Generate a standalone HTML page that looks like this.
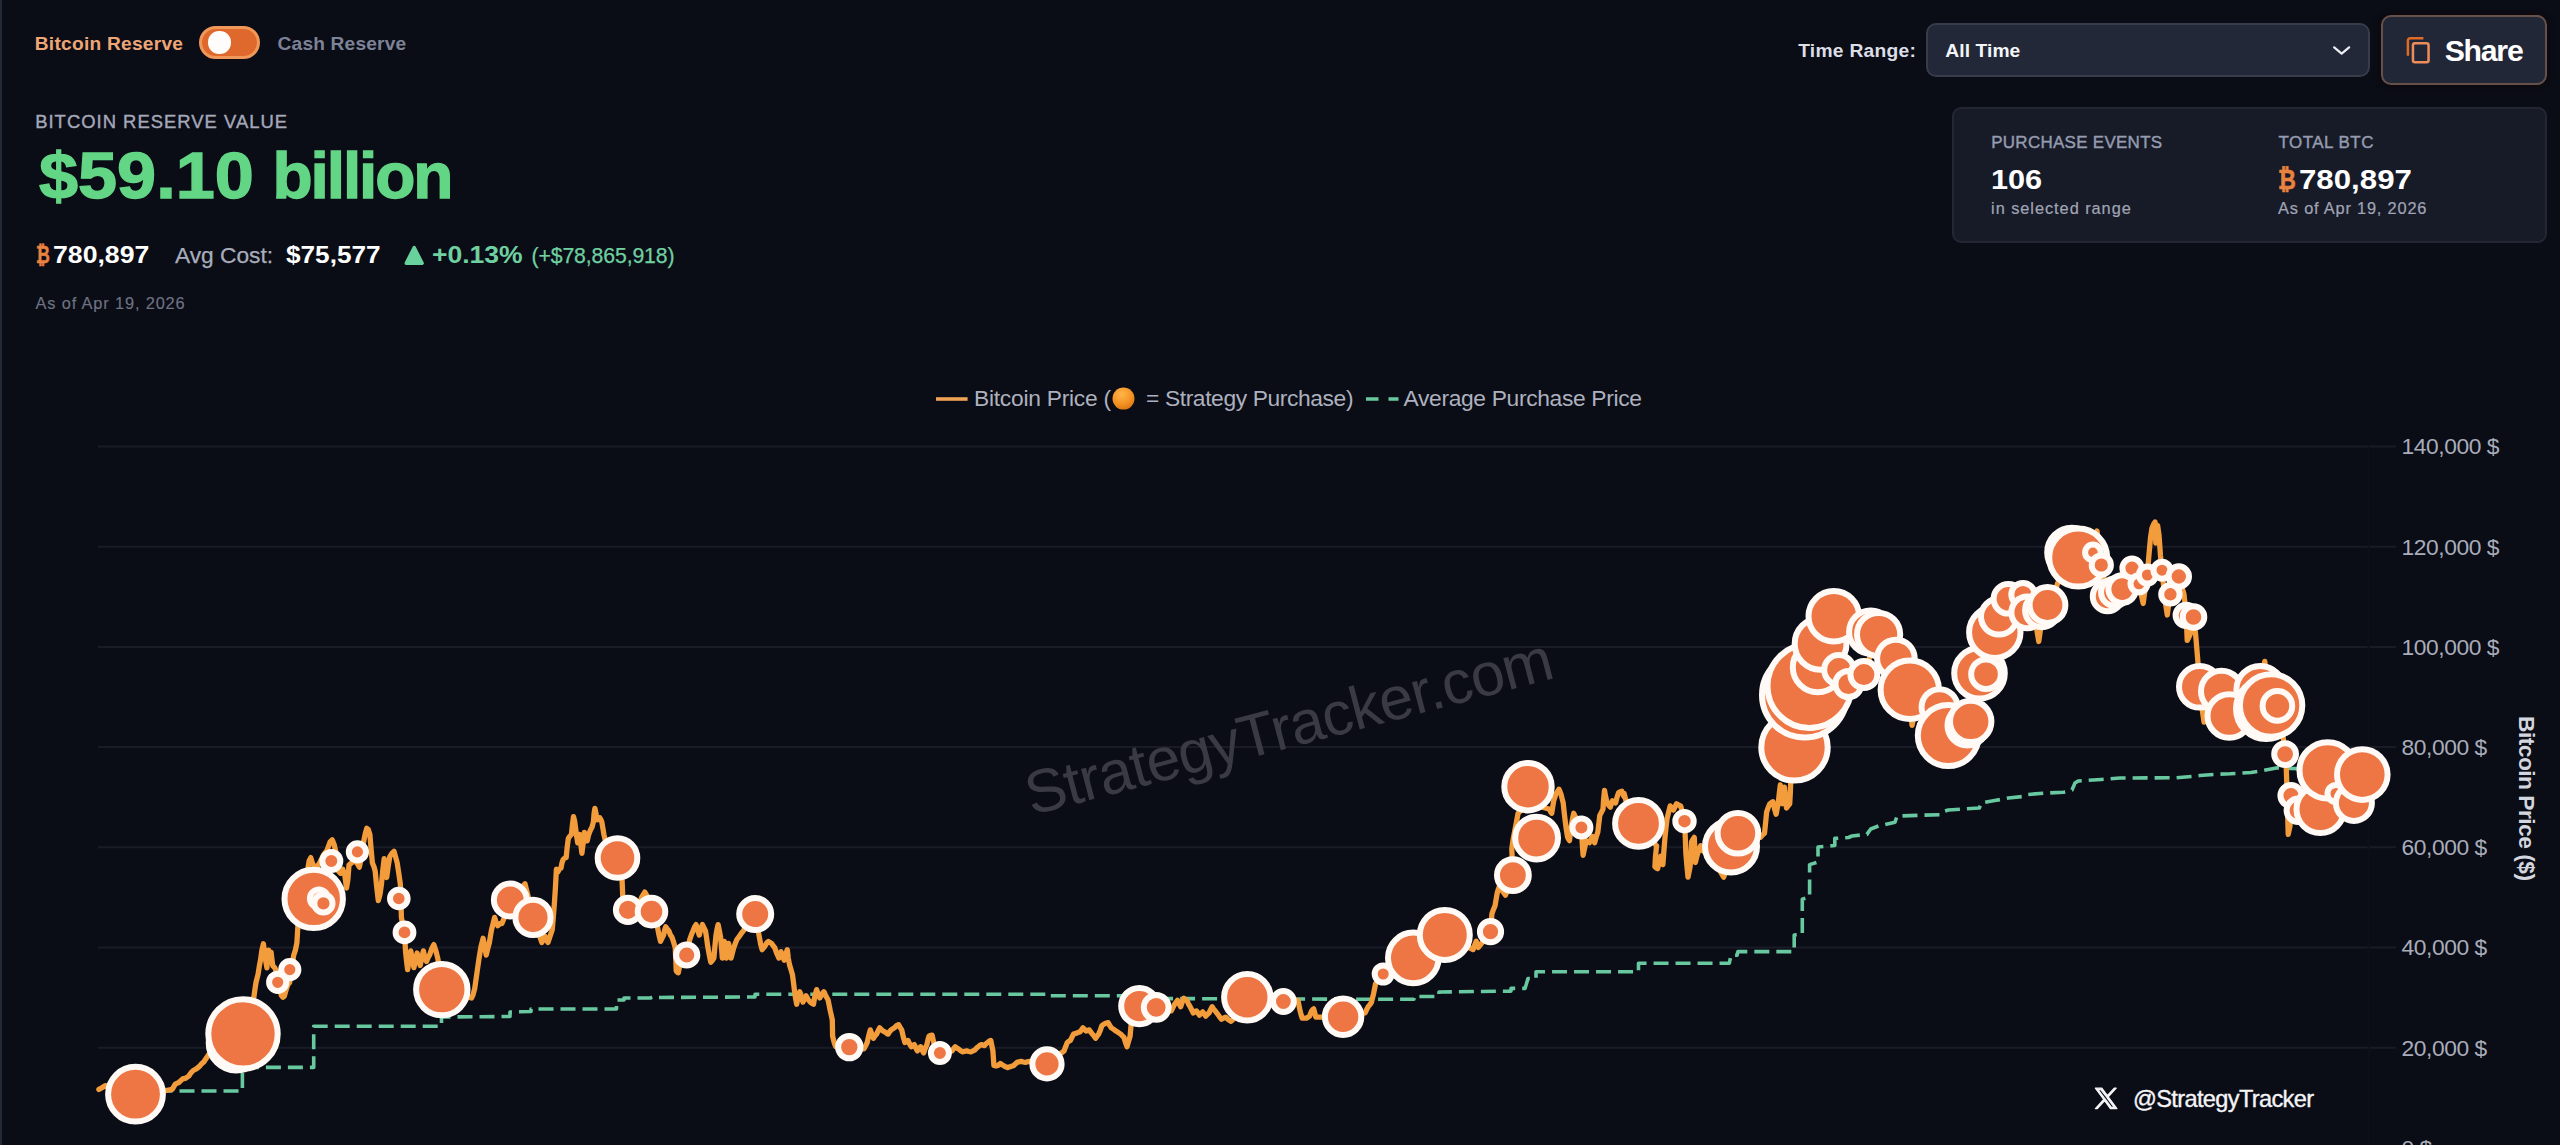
<!DOCTYPE html>
<html lang="en">
<head>
<meta charset="utf-8">
<title>Strategy Tracker - Bitcoin Reserve</title>
<style>
html,body{margin:0;padding:0;background:#0a0c16;}
body{width:2560px;height:1145px;position:relative;overflow:hidden;font-family:"Liberation Sans",sans-serif;color:#fff;}
.edge{position:absolute;left:0;top:0;width:2px;height:1145px;background:#222a38;}
.t{position:absolute;white-space:nowrap;line-height:1;margin:0;}
svg.chart{position:absolute;left:0;top:0;}
svg text{font-family:"Liberation Sans",sans-serif;}
.toggle{position:absolute;left:199.2px;top:25.9px;width:55.1px;height:27.4px;border-radius:18px;background:#df692c;border:3px solid #f0975a;}
.toggle i{position:absolute;left:6.3px;top:2.5px;width:22.4px;height:22.4px;border-radius:50%;background:#fffdfb;}
.select{position:absolute;left:1926.3px;top:23px;width:439.4px;height:49.6px;border-radius:10px;background:#222837;border:2px solid #363c4a;}
.share{position:absolute;left:2380.7px;top:15px;width:162.6px;height:66.2px;border-radius:10px;background:#222737;border:2px solid #66504a;box-shadow:0 0 6px rgba(20,8,4,0.8);}
.card{position:absolute;left:1952px;top:106.7px;width:591.4px;height:132.5px;border-radius:9px;background:#171b27;border:2px solid #232733;}
.tri{position:absolute;left:404.7px;top:246px;width:0;height:0;border-left:9.6px solid transparent;border-right:9.6px solid transparent;border-bottom:18.8px solid #62c893;border-radius:2px;}
</style>
</head>
<body>
<div class="edge"></div>
<svg class="chart" width="2560" height="1145" viewBox="0 0 2560 1145">
<defs><radialGradient id="em" cx="0.42" cy="0.3" r="0.75"><stop offset="0" stop-color="#ffb54a"/><stop offset="0.6" stop-color="#f59324"/><stop offset="1" stop-color="#d8740f"/></radialGradient></defs>
<g stroke="#191c26" stroke-width="2">
<line x1="98" y1="446.6" x2="2396" y2="446.6"/>
<line x1="98" y1="546.8" x2="2396" y2="546.8"/>
<line x1="98" y1="647.0" x2="2396" y2="647.0"/>
<line x1="98" y1="747.1" x2="2396" y2="747.1"/>
<line x1="98" y1="847.3" x2="2396" y2="847.3"/>
<line x1="98" y1="947.5" x2="2396" y2="947.5"/>
<line x1="98" y1="1047.7" x2="2396" y2="1047.7"/>
<line x1="98" y1="1147.9" x2="2396" y2="1147.9"/>
</g>
<line x1="2368.5" y1="446.6" x2="2368.5" y2="1145" stroke="#0d1019" stroke-width="2"/>
<text class="wm" x="0" y="0" transform="translate(1031.5 815.5) rotate(-14.7)" fill="#393a43" font-size="61" textLength="543">StrategyTracker.com</text>
<path d="M135.5 1091.0 L242.4 1091.0 L242.4 1067.4 L313.7 1067.4 L313.7 1026.2 L441.5 1026.2 L441.5 1017.0 L510.0 1016.5 L510.0 1012.0 L531.0 1011.5 L531.0 1009.0 L616.5 1009.0 L616.5 1000.0 L624.0 1000.0 L624.0 998.0 L651.0 998.0 L651.0 997.5 L755.0 997.0 L755.0 994.3 L1046.0 994.3 L1046.0 995.8 L1139.0 995.8 L1139.0 998.5 L1247.0 998.8 L1343.0 999.2 L1413.9 999.2 L1413.9 996.5 L1439.0 996.5 L1439.0 992.0 L1511.0 991.1 L1511.0 988.4 L1525.0 988.4 L1528.0 978.5 L1536.0 978.5 L1536.0 971.7 L1638.5 971.7 L1638.5 963.2 L1729.3 963.2 L1731.0 955.2 L1737.0 955.2 L1738.0 951.6 L1794.2 951.6 L1794.2 935.0 L1802.3 934.4 L1802.3 899.2 L1809.6 897.0 L1809.6 864.6 L1818.0 862.0 L1818.0 847.0 L1828.5 846.0 L1834.8 845.5 L1834.8 838.4 L1848.5 837.5 L1852.0 836.0 L1866.9 834.4 L1870.7 829.0 L1878.6 826.0 L1895.0 822.2 L1897.0 816.0 L1910.0 815.6 L1939.5 814.7 L1941.9 812.0 L1948.3 810.0 L1970.7 808.5 L1979.4 808.0 L1981.0 803.0 L1994.8 800.6 L2008.4 798.0 L2023.0 796.5 L2027.3 794.5 L2047.2 793.0 L2063.8 792.2 L2072.0 790.0 L2075.0 783.0 L2078.2 781.0 L2101.3 779.5 L2120.0 778.0 L2176.0 777.8 L2195.0 776.2 L2199.8 775.5 L2213.8 774.4 L2230.2 773.8 L2251.0 772.5 L2260.6 771.0 L2271.1 769.0 L2277.5 767.8 L2290.0 768.5 L2320.0 768.8 L2368.0 769.3" fill="none" stroke="#68c9a0" stroke-width="3.6" stroke-dasharray="15 7" stroke-linejoin="round"/>
<path d="M98.9 1089.4 L102.0 1087.7 L105.1 1085.6 L135.5 1093.6 L165.9 1090.5 L172.2 1089.4 L175.3 1084.2 L178.5 1082.7 L182.7 1078.9 L185.8 1078.1 L189.0 1075.8 L191.1 1072.6 L193.2 1070.5 L196.3 1068.9 L199.4 1066.4 L201.5 1063.8 L203.6 1062.2 L205.7 1059.0 L207.8 1055.9 L226.7 1030.7 L243.5 1009.8 L253.9 997.2 L255.0 988.8 L256.0 982.5 L258.1 974.2 L259.4 965.8 L260.6 959.5 L261.9 950.1 L263.4 943.8 L264.4 951.1 L265.5 959.5 L266.9 967.9 L267.8 957.4 L268.6 950.1 L269.9 953.6 L271.1 952.2 L272.0 959.9 L272.8 965.8 L274.9 967.9 L276.6 972.1 L278.0 974.2 L279.5 984.6 L281.2 995.1 L282.8 997.2 L284.3 996.2 L286.4 988.8 L287.9 984.6 L289.6 982.5 L291.7 967.9 L293.7 955.3 L295.4 950.1 L296.9 942.7 L297.9 926.0 L299.7 917.4 L302.9 900.6 L306.0 879.6 L309.2 860.8 L310.8 857.6 L312.3 862.9 L315.4 869.2 L319.6 862.9 L323.8 854.5 L327.0 850.3 L330.1 841.9 L332.2 839.8 L334.3 845.1 L336.4 854.5 L338.5 871.2 L340.6 873.3 L342.7 869.2 L344.8 875.4 L346.5 888.0 L347.9 879.6 L349.0 865.0 L351.5 862.9 L354.2 860.8 L356.9 862.9 L359.4 867.1 L361.5 856.6 L363.6 841.9 L365.3 833.5 L366.8 828.3 L368.2 829.3 L369.9 834.6 L371.2 850.3 L372.4 862.9 L374.1 867.1 L375.2 871.2 L376.6 885.9 L378.3 900.6 L380.0 894.3 L381.5 883.8 L382.9 869.2 L384.2 858.7 L385.4 869.2 L386.7 877.5 L388.4 865.0 L389.8 856.6 L391.9 853.4 L394.0 851.3 L395.5 856.6 L397.2 862.9 L398.8 873.3 L400.3 883.8 L400.9 898.5 L401.4 917.4 L403.0 925.7 L404.5 932.4 L405.5 950.9 L406.6 961.4 L407.6 969.7 L409.3 959.3 L410.8 950.9 L412.3 959.3 L413.9 967.6 L415.6 959.3 L417.1 953.0 L418.5 959.3 L420.2 965.5 L421.9 957.2 L423.4 950.9 L424.8 957.2 L426.5 961.4 L428.2 957.2 L429.6 955.1 L431.7 948.8 L433.8 944.6 L435.9 950.9 L438.0 959.3 L441.8 989.6 L471.6 998.0 L473.0 994.9 L474.7 988.6 L476.8 973.9 L478.9 959.3 L481.0 946.7 L483.1 938.3 L484.8 946.7 L486.2 955.1 L487.7 948.8 L489.4 942.5 L490.4 936.2 L491.5 929.9 L493.1 923.6 L494.6 917.4 L496.1 922.6 L497.8 925.7 L499.8 923.6 L501.9 923.6 L506.1 913.2 L510.3 904.8 L517.7 892.2 L525.0 883.8 L529.2 900.6 L533.4 917.4 L537.6 929.9 L541.8 942.5 L543.4 938.3 L544.9 936.2 L546.4 940.4 L548.0 942.5 L550.1 936.2 L552.2 929.9 L553.3 917.4 L554.3 904.8 L555.4 888.0 L556.4 869.2 L557.8 872.2 L559.3 869.1 L561.0 868.0 L562.0 862.8 L563.1 859.6 L564.7 858.0 L566.2 857.5 L567.2 847.1 L568.3 838.7 L569.8 836.2 L571.4 834.5 L572.5 824.0 L573.5 816.7 L574.6 820.9 L575.6 828.2 L576.7 836.6 L577.7 842.9 L578.8 837.6 L579.8 834.5 L580.9 845.0 L581.9 853.3 L583.2 842.9 L584.4 832.4 L585.7 837.6 L587.2 840.8 L588.6 834.9 L590.3 830.3 L592.0 827.2 L593.4 821.9 L594.1 813.5 L594.9 808.3 L596.2 814.6 L597.6 819.8 L598.7 818.1 L599.7 817.7 L600.8 819.4 L601.8 821.9 L602.9 828.2 L603.9 834.5 L605.4 840.8 L617.5 858.0 L622.1 880.6 L622.8 897.4 L628.0 909.9 L638.5 905.7 L641.6 897.4 L644.8 892.1 L647.9 897.4 L651.5 911.6 L657.4 926.7 L659.0 935.1 L660.5 941.4 L662.0 938.2 L663.6 935.1 L664.7 929.8 L665.7 926.7 L667.4 929.2 L668.9 930.9 L670.3 934.7 L672.0 937.2 L673.7 942.4 L675.2 947.6 L675.8 960.2 L676.2 970.7 L677.3 972.4 L678.3 972.8 L680.0 964.4 L686.7 955.0 L689.8 939.3 L691.3 935.1 L693.0 930.9 L694.7 926.7 L696.1 924.6 L697.6 929.8 L699.3 935.1 L700.9 928.8 L702.4 924.6 L703.9 927.7 L705.5 930.9 L706.6 938.2 L707.6 945.5 L709.3 955.0 L710.8 962.3 L712.3 960.6 L713.9 958.1 L715.0 945.5 L716.0 935.1 L717.1 928.8 L718.1 924.6 L719.4 930.9 L720.6 937.2 L721.5 947.6 L722.3 958.1 L723.4 949.7 L724.4 941.4 L725.5 949.7 L726.5 958.1 L727.6 950.8 L728.6 943.5 L729.9 950.8 L731.1 958.1 L732.4 952.9 L733.8 947.6 L735.3 943.5 L737.0 939.3 L738.7 937.2 L740.1 935.1 L741.6 933.0 L743.3 930.9 L755.2 914.1 L759.0 935.1 L760.5 943.5 L762.1 949.7 L763.8 947.6 L765.3 945.5 L766.7 943.0 L768.4 941.4 L770.1 942.6 L771.6 943.5 L773.0 945.5 L774.7 947.6 L776.8 953.5 L778.9 958.1 L779.9 954.4 L781.0 951.8 L782.7 956.4 L784.1 960.2 L785.6 954.4 L787.3 949.7 L788.3 958.1 L789.4 964.4 L791.0 969.6 L792.5 974.9 L793.6 983.3 L794.6 991.7 L795.7 999.0 L796.7 1004.2 L798.2 996.9 L799.8 991.7 L801.5 997.9 L803.0 1002.1 L804.5 998.4 L806.1 995.8 L808.2 999.6 L810.3 1002.1 L812.0 1003.4 L813.5 1004.2 L814.9 995.8 L816.6 989.6 L818.3 994.2 L819.8 997.9 L821.9 994.2 L823.9 991.7 L826.0 996.3 L828.1 1000.0 L830.2 1010.5 L832.3 1019.9 L832.6 1036.2 L834.2 1042.5 L835.7 1046.7 L849.3 1047.1 L864.0 1048.8 L865.7 1045.6 L867.2 1042.5 L868.6 1036.2 L870.3 1029.9 L872.0 1034.5 L873.4 1038.3 L874.9 1035.8 L876.6 1034.1 L878.3 1030.3 L879.7 1027.8 L880.8 1029.1 L881.8 1029.9 L883.3 1031.2 L885.0 1032.0 L886.6 1033.3 L888.1 1034.1 L889.6 1031.6 L891.2 1029.9 L892.9 1028.7 L894.4 1027.8 L896.5 1025.7 L898.6 1024.7 L900.1 1027.4 L901.7 1029.9 L903.4 1037.3 L904.9 1042.5 L906.3 1041.2 L908.0 1040.4 L909.7 1044.2 L911.2 1046.7 L912.6 1045.4 L914.3 1044.6 L916.0 1048.4 L917.4 1050.9 L918.9 1048.4 L920.6 1046.7 L922.3 1050.5 L923.7 1053.0 L925.2 1048.4 L926.9 1044.6 L927.9 1040.0 L929.0 1036.2 L930.6 1035.4 L932.1 1035.2 L933.2 1040.0 L934.2 1044.6 L939.9 1053.0 L952.0 1050.9 L953.7 1048.4 L955.2 1046.7 L956.6 1047.9 L958.3 1048.8 L960.4 1050.5 L962.5 1051.9 L964.6 1051.3 L966.7 1050.9 L968.8 1051.5 L970.9 1051.9 L973.0 1050.9 L975.1 1049.8 L976.7 1047.9 L978.2 1046.7 L979.7 1045.4 L981.4 1044.6 L983.0 1045.2 L984.5 1045.6 L986.0 1043.8 L987.6 1042.5 L989.3 1041.2 L990.8 1040.4 L991.8 1045.6 L992.9 1050.9 L993.5 1059.3 L993.9 1065.5 L996.0 1066.0 L998.1 1065.5 L999.2 1064.3 L1000.2 1063.5 L1001.9 1064.7 L1003.4 1065.5 L1005.5 1066.8 L1007.6 1067.6 L1009.0 1067.0 L1010.7 1066.6 L1012.4 1066.0 L1013.8 1065.5 L1015.3 1063.9 L1017.0 1062.4 L1019.1 1061.8 L1021.2 1061.4 L1023.3 1062.0 L1025.4 1062.4 L1027.5 1061.8 L1029.6 1061.4 L1046.9 1063.9 L1064.1 1050.9 L1065.6 1046.7 L1067.3 1042.5 L1069.0 1041.2 L1070.4 1040.4 L1071.9 1037.3 L1073.6 1034.1 L1075.2 1033.5 L1076.7 1033.1 L1078.2 1032.4 L1079.8 1032.0 L1081.5 1029.9 L1083.0 1027.8 L1084.5 1029.5 L1086.1 1031.0 L1087.8 1030.3 L1089.3 1029.9 L1090.7 1032.0 L1092.4 1034.1 L1094.1 1036.2 L1095.6 1038.3 L1097.0 1036.2 L1098.7 1034.1 L1100.4 1029.9 L1101.9 1025.7 L1103.3 1024.5 L1105.0 1023.6 L1106.7 1023.0 L1108.1 1022.6 L1109.6 1025.3 L1111.3 1027.8 L1113.0 1028.9 L1114.4 1029.9 L1115.9 1031.0 L1117.6 1032.0 L1119.2 1033.1 L1120.7 1034.1 L1122.2 1035.8 L1123.9 1037.3 L1125.5 1042.5 L1127.0 1046.7 L1128.5 1041.5 L1130.1 1036.2 L1131.2 1023.6 L1133.5 1019.3 L1139.4 1006.1 L1156.2 1007.3 L1171.2 1010.9 L1172.9 1007.7 L1174.4 1004.6 L1175.9 1002.5 L1177.5 1000.4 L1179.2 1003.8 L1180.7 1006.7 L1182.1 1002.5 L1183.8 998.3 L1185.5 999.4 L1187.0 1000.4 L1188.4 1003.8 L1190.1 1006.7 L1191.8 1010.0 L1193.3 1013.0 L1194.7 1011.7 L1196.4 1010.9 L1198.1 1013.2 L1199.5 1015.1 L1201.0 1013.4 L1202.7 1011.9 L1204.4 1014.2 L1205.8 1016.1 L1207.3 1014.4 L1209.0 1013.0 L1210.6 1009.6 L1212.1 1006.7 L1213.6 1009.0 L1215.3 1010.9 L1216.9 1013.2 L1218.4 1015.1 L1219.9 1017.4 L1221.5 1019.3 L1223.6 1018.0 L1225.7 1017.2 L1228.2 1019.5 L1231.0 1021.4 L1247.3 1006.7 L1283.4 1001.5 L1298.0 1000.4 L1299.1 1005.9 L1300.1 1010.9 L1301.2 1015.1 L1302.2 1018.2 L1304.3 1018.2 L1306.4 1018.2 L1307.9 1017.2 L1309.6 1016.1 L1310.6 1013.4 L1311.7 1010.9 L1312.7 1009.6 L1313.7 1008.8 L1314.8 1013.2 L1315.8 1017.2 L1319.0 1017.2 L1322.1 1017.2 L1343.1 1016.7 L1365.1 1013.0 L1366.6 1009.6 L1368.2 1006.7 L1369.9 1004.6 L1371.4 1002.5 L1372.4 998.3 L1373.5 994.1 L1374.5 988.9 L1375.6 983.6 L1383.3 974.2 L1413.3 957.9 L1444.8 934.9 L1473.1 949.6 L1474.5 945.4 L1476.2 941.2 L1477.3 944.3 L1478.3 947.5 L1481.5 943.3 L1484.6 939.1 L1490.5 931.7 L1491.9 913.9 L1493.4 909.7 L1495.1 905.5 L1496.1 899.3 L1497.2 893.0 L1498.2 889.6 L1499.3 886.7 L1502.4 890.9 L1505.5 895.1 L1512.9 875.2 L1511.8 849.0 L1512.9 840.6 L1518.1 813.3 L1528.0 802.9 L1549.6 809.2 L1550.6 811.7 L1551.7 813.3 L1552.7 807.1 L1553.7 800.8 L1554.8 797.4 L1555.8 794.5 L1557.5 791.6 L1559.0 789.2 L1560.0 791.6 L1561.1 794.5 L1562.1 798.7 L1563.2 802.9 L1564.2 812.5 L1565.3 821.7 L1566.3 829.3 L1567.4 836.4 L1568.4 838.9 L1569.5 840.6 L1570.5 832.2 L1571.6 823.8 L1572.6 818.4 L1573.7 813.3 L1574.7 815.4 L1575.8 817.5 L1581.4 827.6 L1582.2 842.7 L1583.1 855.3 L1584.8 847.3 L1586.2 840.6 L1587.7 841.8 L1589.4 842.7 L1591.0 839.3 L1592.5 836.4 L1593.6 839.7 L1594.6 842.7 L1596.1 837.2 L1597.8 832.2 L1598.8 823.8 L1599.8 815.4 L1601.5 812.1 L1603.0 809.2 L1603.6 799.5 L1604.5 790.3 L1605.7 797.0 L1607.2 802.9 L1608.7 805.2 L1610.3 807.1 L1611.4 803.7 L1612.4 800.8 L1614.1 802.0 L1615.6 802.9 L1617.0 797.4 L1618.7 792.4 L1620.4 791.8 L1621.9 791.3 L1622.9 794.1 L1623.9 796.6 L1624.1 793.4 L1626.2 801.7 L1638.4 823.3 L1656.6 845.8 L1655.5 856.2 L1654.9 866.7 L1656.2 868.0 L1657.6 868.8 L1659.1 862.5 L1660.8 856.2 L1661.8 860.9 L1662.9 864.6 L1663.9 851.0 L1665.0 837.4 L1666.0 827.7 L1667.1 818.5 L1668.7 811.8 L1670.2 805.9 L1671.7 808.2 L1673.4 810.1 L1675.0 806.8 L1676.5 803.8 L1678.6 805.1 L1680.7 805.9 L1684.5 821.2 L1685.1 833.2 L1685.9 854.1 L1687.0 866.7 L1688.0 877.2 L1689.1 871.8 L1690.1 866.7 L1691.0 854.1 L1691.6 841.6 L1693.1 839.3 L1694.3 837.4 L1694.9 850.4 L1695.4 862.5 L1696.4 858.1 L1697.5 854.1 L1698.9 849.7 L1700.6 845.8 L1701.7 848.1 L1702.7 850.0 L1717.4 866.7 L1723.7 877.2 L1727.9 864.6 L1731.0 856.2 L1737.9 833.2 L1760.3 837.4 L1762.4 835.1 L1764.5 833.2 L1765.6 822.7 L1766.6 812.2 L1768.1 807.8 L1769.8 803.8 L1771.5 802.6 L1772.9 801.7 L1774.4 808.2 L1776.1 814.3 L1777.1 808.9 L1778.2 803.8 L1779.2 794.4 L1780.3 785.0 L1781.3 794.6 L1782.4 803.8 L1783.4 795.2 L1784.4 787.1 L1785.5 797.8 L1786.5 808.0 L1788.2 805.7 L1789.7 803.8 L1790.3 793.4 L1790.7 782.9 L1794.9 745.2 L1794.5 747.3 L1803.9 694.8 L1808.3 685.4 L1817.7 667.3 L1820.6 643.8 L1833.8 616.3 L1838.9 669.7 L1848.5 684.0 L1863.9 674.6 L1869.8 657.0 L1870.7 632.0 L1878.6 634.5 L1895.9 658.5 L1909.6 689.9 L1912.0 725.3 L1915.0 712.0 L1939.5 706.6 L1948.3 735.6 L1970.7 721.4 L1979.5 673.2 L1986.0 674.2 L1994.8 632.3 L1999.0 616.6 L2008.4 598.8 L2023.0 594.6 L2027.3 612.4 L2036.0 625.0 L2038.8 641.5 L2041.5 622.0 L2047.2 605.1 L2055.0 592.0 L2057.5 583.5 L2062.0 575.0 L2075.5 562.0 L2078.2 557.6 L2092.9 552.4 L2095.0 540.0 L2097.0 531.0 L2099.0 546.0 L2101.3 565.0 L2107.6 596.4 L2114.9 592.2 L2122.2 589.1 L2132.0 568.1 L2139.0 583.8 L2141.5 596.0 L2143.2 603.5 L2145.0 590.0 L2147.4 575.0 L2148.5 560.0 L2150.5 537.7 L2152.0 528.0 L2153.7 524.0 L2155.1 522.0 L2155.8 543.0 L2156.6 529.0 L2157.6 525.5 L2159.0 535.0 L2160.5 556.0 L2162.0 570.2 L2165.0 600.0 L2167.3 615.0 L2169.0 602.0 L2170.4 594.3 L2178.8 576.5 L2184.0 594.3 L2186.2 615.3 L2187.2 640.4 L2189.0 637.0 L2190.3 634.0 L2193.5 617.0 L2195.6 634.0 L2197.7 659.3 L2199.8 687.0 L2202.0 708.0 L2204.0 722.2 L2207.0 704.0 L2221.8 690.8 L2230.2 715.9 L2260.6 688.7 L2263.0 670.0 L2264.8 661.4 L2267.0 680.0 L2271.1 705.5 L2277.4 705.9 L2283.7 741.0 L2285.1 754.1 L2286.2 766.0 L2287.0 790.0 L2288.2 834.4 L2290.0 826.0 L2291.0 795.6 L2298.0 810.0 L2320.3 809.2 L2327.7 770.4 L2336.0 793.5 L2353.9 802.9 L2362.3 774.6 L2368.0 770.0" fill="none" stroke="#f29c3c" stroke-width="5.3" stroke-linejoin="round" stroke-linecap="round"/>
<g fill="#ee7644" stroke="#fffaf5" stroke-width="6">
<circle cx="135.5" cy="1094.2" r="27.4"/>
<circle cx="236.2" cy="1043.0" r="27.5"/>
<circle cx="243.0" cy="1033.9" r="34.7"/>
<circle cx="277.7" cy="982.3" r="8.6"/>
<circle cx="289.8" cy="969.6" r="8.6"/>
<circle cx="313.7" cy="898.9" r="29.2"/>
<circle cx="318.9" cy="898.5" r="9.0"/>
<circle cx="323.4" cy="903.4" r="9.1"/>
<circle cx="331.3" cy="860.9" r="9.0"/>
<circle cx="357.4" cy="851.9" r="8.6"/>
<circle cx="398.8" cy="898.5" r="8.8"/>
<circle cx="404.5" cy="932.4" r="8.9"/>
<circle cx="441.8" cy="989.6" r="25.7"/>
<circle cx="510.3" cy="900.0" r="16.4"/>
<circle cx="533.0" cy="917.4" r="17.6"/>
<circle cx="617.5" cy="858.0" r="19.8"/>
<circle cx="628.0" cy="909.9" r="12.1"/>
<circle cx="651.5" cy="911.6" r="13.8"/>
<circle cx="686.7" cy="955.0" r="10.6"/>
<circle cx="755.2" cy="914.1" r="16.0"/>
<circle cx="849.3" cy="1047.1" r="11.2"/>
<circle cx="939.9" cy="1053.0" r="9.0"/>
<circle cx="1047.0" cy="1063.9" r="14.6"/>
<circle cx="1139.4" cy="1006.1" r="18.2"/>
<circle cx="1156.2" cy="1007.3" r="12.4"/>
<circle cx="1247.3" cy="997.3" r="23.2"/>
<circle cx="1283.4" cy="1001.5" r="10.4"/>
<circle cx="1343.1" cy="1016.7" r="18.2"/>
<circle cx="1383.2" cy="974.0" r="8.5"/>
<circle cx="1413.3" cy="957.9" r="25.3"/>
<circle cx="1444.8" cy="934.9" r="25.0"/>
<circle cx="1490.5" cy="931.7" r="10.6"/>
<circle cx="1512.9" cy="875.2" r="15.9"/>
<circle cx="1528.0" cy="786.7" r="23.7"/>
<circle cx="1536.6" cy="838.1" r="21.4"/>
<circle cx="1581.4" cy="827.6" r="9.0"/>
<circle cx="1638.5" cy="823.4" r="23.4"/>
<circle cx="1684.5" cy="821.2" r="9.2"/>
<circle cx="1731.0" cy="846.5" r="26.0"/>
<circle cx="1737.9" cy="833.2" r="20.3"/>
<circle cx="1794.5" cy="747.3" r="33.2"/>
<circle cx="1804.5" cy="695.0" r="42.5"/>
<circle cx="1809.5" cy="686.0" r="42.0"/>
<circle cx="1817.7" cy="667.3" r="24.9"/>
<circle cx="1820.6" cy="643.8" r="25.9"/>
<circle cx="1833.8" cy="616.3" r="25.3"/>
<circle cx="1838.9" cy="669.7" r="14.7"/>
<circle cx="1848.5" cy="684.0" r="13.1"/>
<circle cx="1863.9" cy="674.6" r="13.5"/>
<circle cx="1870.7" cy="632.0" r="21.6"/>
<circle cx="1878.6" cy="634.5" r="21.6"/>
<circle cx="1895.9" cy="658.5" r="18.8"/>
<circle cx="1909.8" cy="689.7" r="29.2"/>
<circle cx="1939.6" cy="707.2" r="18.0"/>
<circle cx="1948.3" cy="735.6" r="30.5"/>
<circle cx="1967.5" cy="725.5" r="20.0"/>
<circle cx="1970.7" cy="721.4" r="20.7"/>
<circle cx="1979.5" cy="673.2" r="25.3"/>
<circle cx="1986.0" cy="674.2" r="14.8"/>
<circle cx="1994.8" cy="632.3" r="25.7"/>
<circle cx="1999.0" cy="616.6" r="18.0"/>
<circle cx="2008.4" cy="598.8" r="14.8"/>
<circle cx="2023.0" cy="594.6" r="11.7"/>
<circle cx="2027.3" cy="612.4" r="15.9"/>
<circle cx="2042.0" cy="610.3" r="16.9"/>
<circle cx="2047.5" cy="605.0" r="17.9"/>
<circle cx="2071.9" cy="552.4" r="24.7"/>
<circle cx="2078.2" cy="557.6" r="29.0"/>
<circle cx="2092.9" cy="552.4" r="7.8"/>
<circle cx="2101.3" cy="565.0" r="9.6"/>
<circle cx="2107.6" cy="596.4" r="14.8"/>
<circle cx="2114.9" cy="592.2" r="13.8"/>
<circle cx="2122.2" cy="589.1" r="13.8"/>
<circle cx="2132.0" cy="568.1" r="9.6"/>
<circle cx="2139.0" cy="583.8" r="8.5"/>
<circle cx="2147.4" cy="575.0" r="8.5"/>
<circle cx="2162.0" cy="570.2" r="8.5"/>
<circle cx="2170.4" cy="594.3" r="9.2"/>
<circle cx="2178.8" cy="576.5" r="10.2"/>
<circle cx="2186.2" cy="615.3" r="10.6"/>
<circle cx="2193.5" cy="617.0" r="10.8"/>
<circle cx="2199.8" cy="686.8" r="20.8"/>
<circle cx="2221.5" cy="691.2" r="20.5"/>
<circle cx="2229.3" cy="716.0" r="21.8"/>
<circle cx="2260.2" cy="689.7" r="23.8"/>
<circle cx="2266.3" cy="708.8" r="30.3"/>
<circle cx="2271.1" cy="705.5" r="31.2"/>
<circle cx="2277.4" cy="705.9" r="14.8"/>
<circle cx="2285.1" cy="754.1" r="10.9"/>
<circle cx="2291.0" cy="795.6" r="10.6"/>
<circle cx="2298.3" cy="810.3" r="11.7"/>
<circle cx="2320.3" cy="809.2" r="23.8"/>
<circle cx="2327.7" cy="770.4" r="28.2"/>
<circle cx="2336.0" cy="793.5" r="8.5"/>
<circle cx="2353.9" cy="802.9" r="18.0"/>
<circle cx="2362.3" cy="774.6" r="25.3"/>
</g>
<g class="tick" fill="#a9adbb" font-size="22.8">
<text x="2401.6" y="454.4" textLength="97.9">140,000 $</text>
<text x="2401.6" y="554.6" textLength="97.9">120,000 $</text>
<text x="2401.6" y="654.8" textLength="97.9">100,000 $</text>
<text x="2401.6" y="754.9" textLength="85.6">80,000 $</text>
<text x="2401.6" y="855.1" textLength="85.6">60,000 $</text>
<text x="2401.6" y="955.3" textLength="85.6">40,000 $</text>
<text x="2401.6" y="1055.5" textLength="85.6">20,000 $</text>
<text x="2401.6" y="1155.7" textLength="30.6">0 $</text>
</g>
<text class="ytitle" transform="translate(2519 716) rotate(90)" fill="#d3d6de" font-size="22.8" font-weight="700" textLength="165">Bitcoin Price ($)</text>
<line x1="936" y1="399" x2="967.6" y2="399" stroke="#f0a356" stroke-width="3.6"/>
<g class="leg" fill="#adb1be" font-size="22.8">
<text x="974" y="406.4" textLength="137">Bitcoin Price (</text>
<circle cx="1123.5" cy="398.6" r="11" fill="url(#em)"/>
<text x="1146" y="406.4" textLength="207.5">= Strategy Purchase)</text>
<path d="M1366 399 H1378.5 M1388.5 399 H1398.5" stroke="#68c9a0" stroke-width="3.6" fill="none"/>
<text x="1403.5" y="406.4" textLength="238.5">Average Purchase Price</text>
</g>
<g fill="#f4f4f6"><path transform="translate(2095.4 1088.2) scale(0.0179 0.0166)" stroke="#f4f4f6" stroke-width="75" stroke-linejoin="round" d="M714.163 519.284L1160.89 0H1055.03L667.137 450.887L357.328 0H0L468.492 681.821L0 1226.37H105.866L515.491 750.218L842.672 1226.37H1200L714.137 519.284H714.163ZM569.165 687.828L521.697 619.934L144.011 79.6944H306.615L611.412 515.685L658.88 583.579L1055.08 1150.3H892.476L569.165 687.854V687.828Z"/>
<text class="hand" stroke="#f4f4f6" stroke-width="0.35" x="2133" y="1106.8" font-size="23.6" textLength="181">@StrategyTracker</text></g>
</svg>
<div class="toggle"><i></i></div>
<div class="select"></div>
<div class="share"></div>
<div class="card"></div>
<svg style="position:absolute;left:403px;top:244px" width="23" height="23" viewBox="0 0 23 23"><path d="M11.2 3.6 L19.2 19.2 H3.2 Z" fill="#69d29c" stroke="#69d29c" stroke-width="3.4" stroke-linejoin="round"/></svg>
<svg style="position:absolute;left:2333px;top:46px" width="18" height="10" viewBox="0 0 18 10"><path d="M1.2 1.3 L8.65 7.6 L16.1 1.3" fill="none" stroke="#eceef3" stroke-width="2.2" stroke-linecap="round" stroke-linejoin="round"/></svg>
<svg style="position:absolute;left:2405px;top:35px" width="27" height="31" viewBox="0 0 27 31"><path d="M18.4 3.25 H5.2 a2.3 2.3 0 0 0 -2.3 2.3 V20.8" fill="none" stroke="#de6c24" stroke-width="2.5"/><rect x="7.95" y="8.35" width="15.6" height="18.8" rx="2" fill="none" stroke="#ee8d5a" stroke-width="2.5"/></svg>
<div class="t" id="t1" style="left:34.80px;top:33.52px;font-size:19.15px;font-weight:700;color:#efa676;letter-spacing:0.248px;">Bitcoin Reserve</div>
<div class="t" id="t2" style="left:277.60px;top:33.52px;font-size:19.15px;font-weight:700;color:#7d8396;letter-spacing:0.175px;">Cash Reserve</div>
<div class="t" id="t3" style="left:35.20px;top:113.31px;font-size:18.42px;font-weight:400;color:#a5a8b9;letter-spacing:1.019px;-webkit-text-stroke:0.4px #a5a8b9;">BITCOIN RESERVE VALUE</div>
<div class="t" id="t4" style="left:39.00px;top:143.01px;font-size:65.72px;font-weight:700;color:#63d686;letter-spacing:-0.000px;-webkit-text-stroke:1.4px #63d686;transform:scaleX(1.0682);transform-origin:0 0;">$59.10</div>
<div class="t" id="t4b" style="left:272.50px;top:143.01px;font-size:65.72px;font-weight:700;color:#63d686;letter-spacing:-2.087px;-webkit-text-stroke:1.4px #63d686;">billion</div>
<div class="t" id="t5" style="left:35.89px;top:243.20px;font-size:23.8px;font-weight:700;color:#ea8240;letter-spacing:0.000px;-webkit-text-stroke:0.6px #ea8240;transform:scaleX(0.7111);transform-origin:0 0;">₿</div>
<div class="t" id="t6" style="left:53.48px;top:243.20px;font-size:23.8px;font-weight:700;color:#ffffff;letter-spacing:0.000px;transform:scaleX(1.1193);transform-origin:0 0;">780,897</div>
<div class="t" id="t7" style="left:174.93px;top:244.22px;font-size:22.77px;font-weight:400;color:#a9adbb;letter-spacing:-0.013px;-webkit-text-stroke:0.25px #a9adbb;">Avg Cost:</div>
<div class="t" id="t8" style="left:285.90px;top:243.20px;font-size:23.8px;font-weight:700;color:#ffffff;letter-spacing:0.000px;transform:scaleX(1.0993);transform-origin:0 0;">$75,577</div>
<div class="t" id="t9" style="left:432.49px;top:243.31px;font-size:23.8px;font-weight:700;color:#6fd0a0;letter-spacing:0.000px;transform:scaleX(1.1145);transform-origin:0 0;">+0.13%</div>
<div class="t" id="t10" style="left:531.52px;top:245.21px;font-size:21.22px;font-weight:400;color:#6fd0a0;letter-spacing:-0.116px;-webkit-text-stroke:0.25px #6fd0a0;">(+$78,865,918)</div>
<div class="t" id="t11" style="left:35.58px;top:294.51px;font-size:16.35px;font-weight:400;color:#6e7383;letter-spacing:0.857px;-webkit-text-stroke:0.15px #6e7383;">As of Apr 19, 2026</div>
<div class="t" id="t12" style="left:1798.20px;top:41.20px;font-size:19.25px;font-weight:700;color:#dcdee6;letter-spacing:0.254px;">Time Range:</div>
<div class="t" id="t13" style="left:1945.30px;top:41.20px;font-size:19.25px;font-weight:700;color:#f4f5f8;letter-spacing:0.068px;">All Time</div>
<div class="t" id="t14" style="left:2444.70px;top:35.91px;font-size:30.22px;font-weight:700;color:#ffffff;letter-spacing:-1.245px;">Share</div>
<div class="t" id="t15" style="left:1991.20px;top:134.91px;font-size:16.97px;font-weight:400;color:#969cb0;letter-spacing:0.298px;-webkit-text-stroke:0.4px #969cb0;">PURCHASE EVENTS</div>
<div class="t" id="t16" style="left:1991.22px;top:164.61px;font-size:28.46px;font-weight:700;color:#ffffff;letter-spacing:0.000px;transform:scaleX(1.0778);transform-origin:0 0;">106</div>
<div class="t" id="t17" style="left:1991.10px;top:199.82px;font-size:16.35px;font-weight:400;color:#a0a5b6;letter-spacing:0.951px;-webkit-text-stroke:0.2px #a0a5b6;">in selected range</div>
<div class="t" id="t18" style="left:2278.50px;top:134.91px;font-size:16.97px;font-weight:400;color:#969cb0;letter-spacing:0.482px;-webkit-text-stroke:0.4px #969cb0;">TOTAL BTC</div>
<div class="t" id="t19" style="left:2278.48px;top:164.61px;font-size:28.46px;font-weight:700;color:#ea8240;letter-spacing:0.000px;-webkit-text-stroke:0.7px #ea8240;transform:scaleX(0.7667);transform-origin:0 0;">₿</div>
<div class="t" id="t20" style="left:2299.00px;top:164.61px;font-size:28.46px;font-weight:700;color:#ffffff;letter-spacing:-0.000px;transform:scaleX(1.0977);transform-origin:0 0;">780,897</div>
<div class="t" id="t21" style="left:2278.10px;top:199.82px;font-size:16.35px;font-weight:400;color:#a0a5b6;letter-spacing:0.812px;-webkit-text-stroke:0.2px #a0a5b6;">As of Apr 19, 2026</div>
</body>
</html>
